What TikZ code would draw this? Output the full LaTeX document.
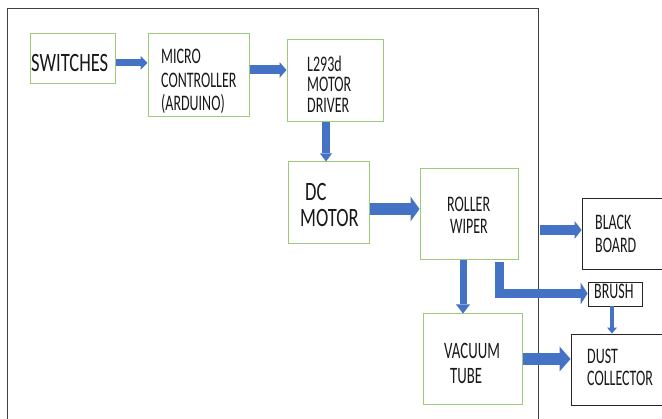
\documentclass[tikz,border=0pt]{standalone}
\usepackage{fontspec}
\newfontfamily\cfa[FakeStretch=0.7]{Carlito}
\newfontfamily\cfb[FakeStretch=0.63]{Carlito}
\usetikzlibrary{arrows.meta}
\definecolor{gbox}{HTML}{9CCB7C}
\definecolor{ablue}{HTML}{4472C4}
\definecolor{frame}{HTML}{404040}
\tikzset{
  gb/.style={draw=gbox, line width=1pt, inner sep=0pt, fill=white},
  kb/.style={draw=black!85, line width=0.9pt, inner sep=0pt, fill=white},
  txt/.style={inner sep=0pt, anchor=north west, align=left, text=black!90},
  fbig/.style={font={\cfa\fontsize{26.5}{26.5}\selectfont}},
  fmid/.style={font={\cfb\fontsize{23.5}{24.5}\selectfont}},
  fsm/.style={font={\cfb\fontsize{22.2}{#1}\selectfont}},
  blk/.style n args={3}{draw=ablue, line width=#1, -{Triangle[length=#2, width=#3, line width=0pt]}}
}
\begin{document}
\begin{tikzpicture}[x=1pt, y=-1pt]
\useasboundingbox (0,0) rectangle (662,419);
\clip (0,0) rectangle (662,419);
\draw[frame, line width=1pt] (7.5,440) -- (7.5,8.5) -- (538,8.5) -- (538,440);
% boxes
\node[gb, minimum width=85pt, minimum height=50pt] (sw) at (72.5,59) {};
\node[gb, minimum width=101pt, minimum height=83pt] (mc) at (198.5,75.5) {};
\node[gb, minimum width=96pt, minimum height=82pt] (drv) at (335,81) {};
\node[gb, minimum width=81pt, minimum height=82pt] (dc) at (328.5,203) {};
\node[gb, minimum width=98pt, minimum height=91pt] (rw) at (469,214.5) {};
\node[kb, minimum width=88pt, minimum height=71pt] (bb) at (626,233.5) {};
\node[kb, minimum width=54pt, minimum height=24pt] (br) at (615,294) {};
\node[gb, minimum width=99pt, minimum height=91pt] (vt) at (472.5,359.5) {};
\node[kb, minimum width=99pt, minimum height=71pt] (dust) at (620.5,369.5) {};
% texts
\node[txt, fbig] (tsw) at (31,54.6) {SWITCHES};
\node[txt, fsm=23.5] (tmc) at (161,49) {MICRO\\CONTROLLER\\(ARDUINO)};
\node[txt, fsm=20.7] (tdrv) at (307,55.5) {L293d\\MOTOR\\DRIVER};
\node[txt, fbig] (tdc) at (300,183) {\hspace*{5pt}DC\\MOTOR};
\node[txt, fsm=22] (trw) at (447,196.5) {ROLLER\\\hspace*{3pt}WIPER};
\node[txt, fsm=22.5] (tbb) at (595,215) {BLACK\\BOARD};
\node[txt, fsm=22] (tbr) at (594,283.5) {BRUSH};
\node[txt, fmid] (tvt) at (444,343.5) {VACUUM\\\hspace*{6pt}TUBE};
\node[txt, fsm=22] (tdust) at (587,349) {DUST\\COLLECTOR};
% arrow guide coordinates
\coordinate (y1) at (0,63);
\coordinate (y2) at (0,70);
\coordinate (x3) at (326,0);
\coordinate (y4) at (0,209);
\coordinate (y5) at (0,230);
\coordinate (x5) at (540,0);
\coordinate (x6) at (463,0);
\coordinate (x7) at (499,0);
\coordinate (y7) at (0,293.5);
\coordinate (x8) at (612,0);
\coordinate (y9) at (0,359);
% arrows
\draw[blk={7pt}{7pt}{14pt}] (sw.east |- y1) -- (mc.west |- y1);
\draw[blk={9pt}{7pt}{16pt}] (mc.east |- y2) -- (drv.west |- y2);
\draw[blk={8pt}{8pt}{12pt}] (drv.south -| x3) -- (dc.north -| x3);
\draw[blk={12pt}{9pt}{25pt}] (dc.east |- y4) -- (rw.west |- y4);
\draw[blk={10pt}{7pt}{18pt}] (x5 |- y5) -- (bb.west |- y5);
\draw[blk={7pt}{9pt}{14pt}] (rw.south -| x6) -- (vt.north -| x6);
\draw[blk={9pt}{7pt}{22pt}] ([yshift=-2pt]rw.south -| x7) |- (br.west |- y7);
\draw[blk={4pt}{6pt}{10pt}] (br.south -| x8) -- (dust.north -| x8);
\draw[blk={12pt}{11pt}{25pt}] (vt.east |- y9) -- (dust.west |- y9);
\end{tikzpicture}
\end{document}
